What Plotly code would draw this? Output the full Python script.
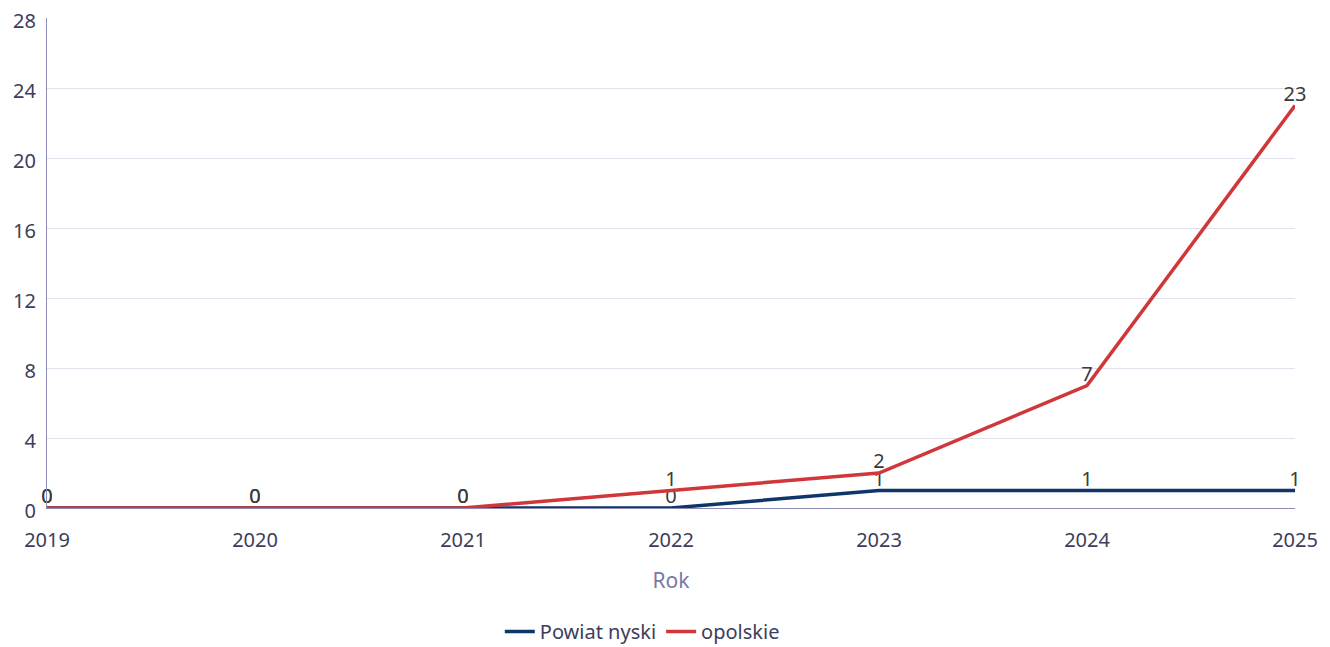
import plotly.graph_objects as go

years = [2019, 2020, 2021, 2022, 2023, 2024, 2025]
powiat_nyski = [0, 0, 0, 0, 1, 1, 1]
opolskie = [0, 0, 0, 1, 2, 7, 23]
y_ticks = [0, 4, 8, 12, 16, 20, 24, 28]

fig = go.Figure()
fig.add_trace(go.Scatter(
    x=years, y=powiat_nyski, mode="lines+text", name="Powiat nyski",
    line=dict(color="#0e3768", width=3.5), cliponaxis=False,
    text=[str(v) for v in powiat_nyski], textposition="top center",
    textfont=dict(color="#3a3a3a", size=20, family="Noto Sans"),
))
fig.add_trace(go.Scatter(
    x=years, y=opolskie, mode="lines+text", name="opolskie",
    line=dict(color="#d1363a", width=3.5), cliponaxis=False,
    text=[str(v) for v in opolskie], textposition="top center",
    textfont=dict(color="#3a3a3a", size=20, family="Noto Sans"),
))

fig.update_layout(
    width=1330, height=647,
    margin=dict(l=39, r=43, t=10, b=147, autoexpand=False),
    paper_bgcolor="white", plot_bgcolor="white",
    font=dict(family="Noto Sans", size=20, color="#3d3d5c"),
    showlegend=True,
    legend=dict(orientation="h", x=0.477, xanchor="center", y=-0.212, yanchor="top",
                font=dict(size=20, color="#3d3d5c"), itemwidth=30),
    xaxis=dict(
        range=[2019, 2025], tickmode="array", tickvals=years,
        ticktext=[str(y) for y in years], automargin=False,
        ticklabeloverflow="allow", ticklabelstandoff=14,
        showgrid=False, showline=True, linecolor="#8c8cb4", linewidth=1,
        zeroline=False, ticks="", tickfont=dict(size=20, color="#3d3d5c"),
        title=dict(text="Rok", font=dict(size=21, color="#7a7aa3"), standoff=21),
    ),
    yaxis=dict(
        range=[0, 28], tickmode="array", tickvals=y_ticks, automargin=False,
        ticklabeloverflow="allow", ticklabelstandoff=6, ticklabelshift=3,
        showgrid=True, gridcolor="#e1e1ee", gridwidth=1,
        showline=True, linecolor="#8c8cb4", linewidth=1,
        zeroline=False, ticks="", tickfont=dict(size=20, color="#3d3d5c"),
    ),
)

fig.write_html("out.html")
